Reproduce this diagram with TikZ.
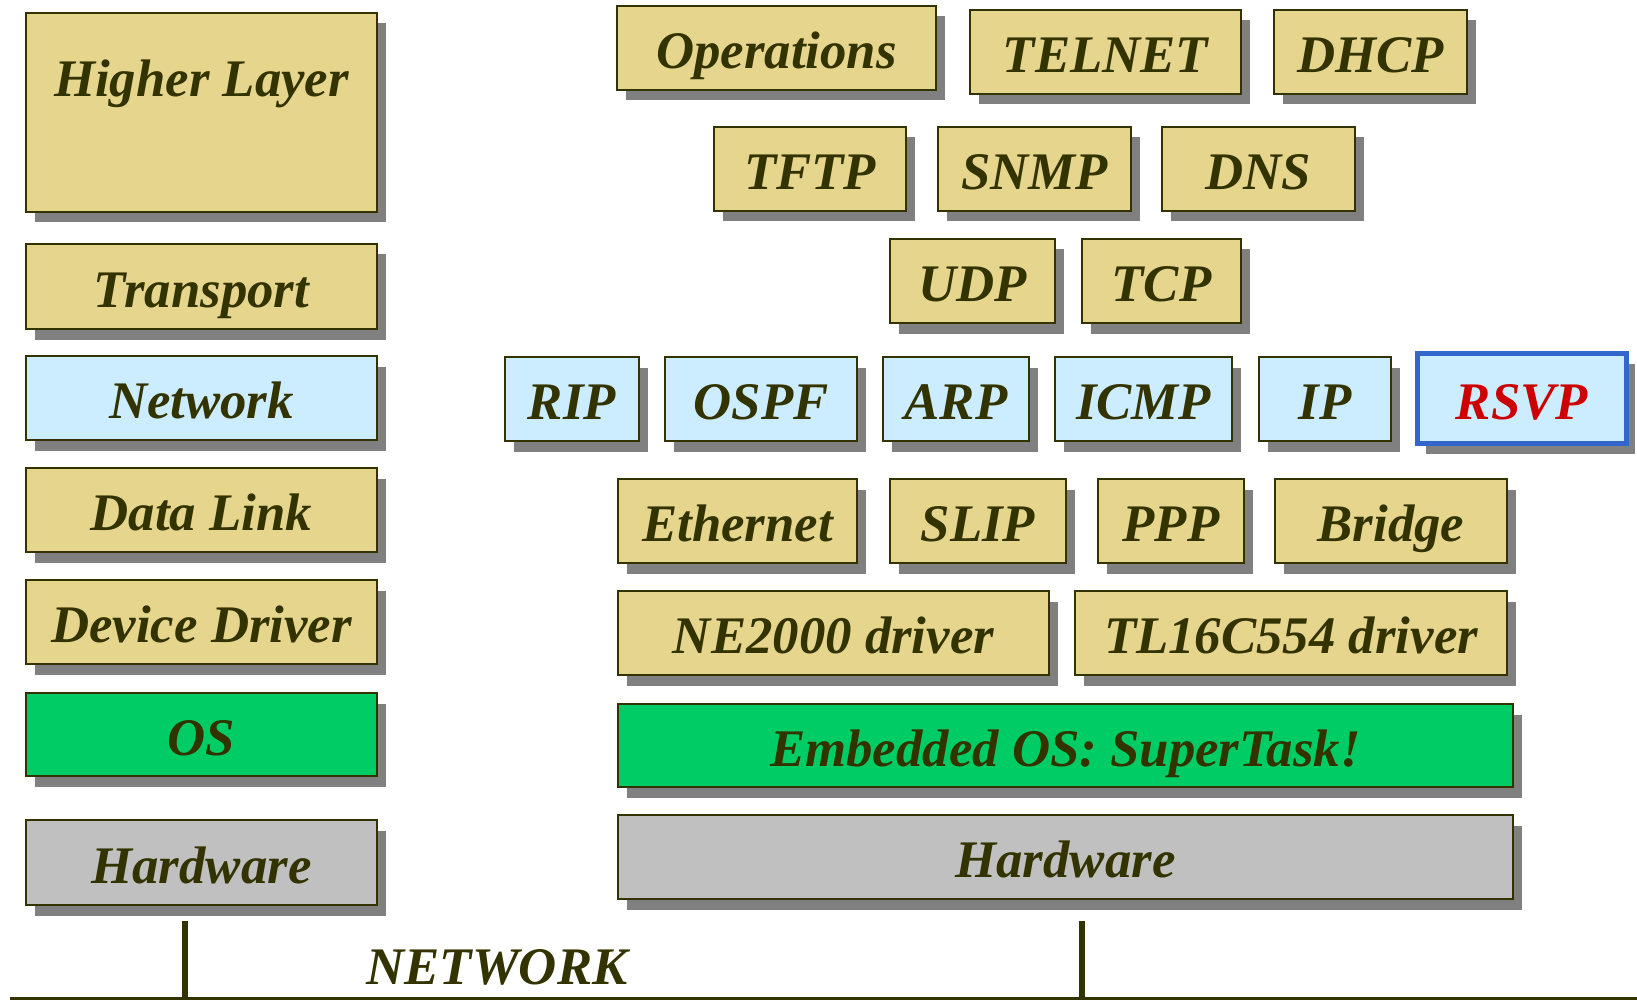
\documentclass[tikz,border=0pt]{standalone}
\usepackage{fontspec}
\setmainfont{Liberation Serif}
\usetikzlibrary{shadows}

\definecolor{ink}{HTML}{333300}
\definecolor{tan}{HTML}{E6D58D}
\definecolor{sky}{HTML}{CCECFF}
\definecolor{mint}{HTML}{00CC66}
\definecolor{steel}{HTML}{C0C0C0}
\definecolor{shade}{HTML}{808080}
\definecolor{rsvpred}{HTML}{CC0000}
\definecolor{rsvpblue}{HTML}{3366CC}

\tikzset{
  layer/.style={draw=ink, line width=1pt, text=ink,
    font=\fontsize{26.4}{30}\selectfont\bfseries\itshape,
    inner sep=0pt, outer sep=0pt, text height=20.5pt, text depth=0pt,
    drop shadow={shadow xshift=4.25pt, shadow yshift=-5.25pt, fill=shade, opacity=1}},
  app/.style={layer, fill=tan},
  net/.style={layer, fill=sky},
  sys/.style={layer, fill=mint},
  hwbox/.style={layer, fill=steel},
  special/.style={net, draw=rsvpblue, line width=2.5pt, text=rsvpred},
  wire/.style={draw=ink, line width=1.75pt},
  drop/.style={draw=ink, line width=3pt},
  caption/.style={text=ink, font=\fontsize{26.4}{30}\selectfont\bfseries\itshape,
    inner sep=0pt, text height=20.5pt, text depth=0pt}
}

% box from outer corners (x1,y1)-(x2,y2), pixel units, y downwards
\newcommand\blk[7]{%
  \node[#2, minimum width={(#5-#3-2)*0.5pt}, minimum height={(#6-#4-2)*0.5pt}]
    (#1) at ({(#3+#5)/2},{(#4+#6)/2}) {#7};}

\begin{document}
\begin{tikzpicture}[x=0.5pt, y=-0.5pt]
\useasboundingbox (0,0) rectangle (1637,1000);

% reference stack
\blk{hl}{app,text depth=36pt}{25}{12}{378}{213}{Higher Layer}
\blk{tr}{app}{25}{243}{378}{330}{Transport}
\blk{nw}{net}{25}{355}{378}{441}{Network}
\blk{dl}{app}{25}{467}{378}{553}{Data Link}
\blk{dd}{app}{25}{579}{378}{665}{Device Driver}
\blk{os}{sys}{25}{692}{378}{777}{OS}
\blk{hw}{hwbox}{25}{819}{378}{906}{Hardware}

% applications
\blk{ops}{app}{616}{5}{937}{91}{Operations}
\blk{tel}{app}{969}{9}{1242}{95}{TELNET}
\blk{dhcp}{app}{1273}{9}{1468}{95}{DHCP}
\blk{tftp}{app}{713}{126}{907}{212}{TFTP}
\blk{snmp}{app}{937}{126}{1132}{212}{SNMP}
\blk{dns}{app}{1161}{126}{1356}{212}{DNS}

% transport
\blk{udp}{app}{889}{238}{1056}{324}{UDP}
\blk{tcp}{app}{1081}{238}{1242}{324}{TCP}

% network
\blk{rip}{net}{504}{356}{640}{442}{RIP}
\blk{ospf}{net}{664}{356}{858}{442}{OSPF}
\blk{arp}{net}{882}{356}{1030}{442}{ARP}
\blk{icmp}{net}{1054}{356}{1233}{442}{ICMP}
\blk{ip}{net}{1258}{356}{1392}{442}{IP}
\node[special, minimum width={(1629-1415-5)*0.5pt}, minimum height={(446-351-5)*0.5pt}]
  (rsvp) at (1522,398.5) {RSVP};

% data link
\blk{eth}{app}{617}{478}{858}{564}{Ethernet}
\blk{slip}{app}{889}{478}{1067}{564}{SLIP}
\blk{ppp}{app}{1097}{478}{1245}{564}{PPP}
\blk{bridge}{app}{1274}{478}{1508}{564}{Bridge}

% drivers
\blk{ne}{app}{617}{590}{1050}{676}{NE2000 driver}
\blk{tl}{app}{1074}{590}{1508}{676}{TL16C554 driver}

% operating system and hardware
\blk{eos}{sys}{617}{703}{1514}{788}{Embedded OS: SuperTask!}
\blk{hw2}{hwbox}{617}{814}{1514}{900}{Hardware}

% network cable
\coordinate (netL) at (10,998.5);
\coordinate (netR) at (1637,998.5);
\coordinate (dropL) at (185,921);
\coordinate (dropR) at (1082,921);
\draw[wire] (netL) -- (netR);
\draw[drop] (dropL) -- (dropL |- netL);
\draw[drop] (dropR) -- (dropR |- netL);
\node[caption] (netlbl) at (497,964) {NETWORK};
\end{tikzpicture}
\end{document}
